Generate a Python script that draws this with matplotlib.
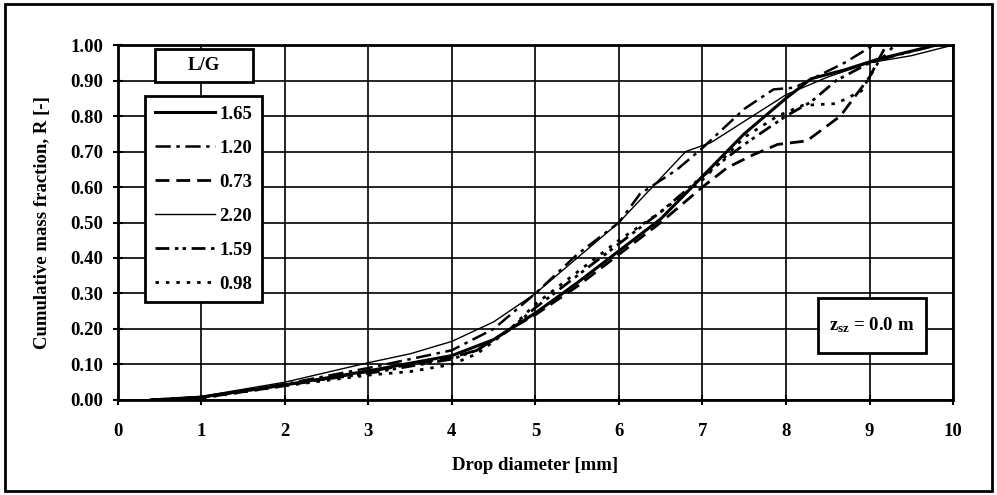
import matplotlib
matplotlib.use('Agg')
import matplotlib.pyplot as plt
from matplotlib.patches import Rectangle

plt.rcParams['font.family'] = ['Liberation Serif', 'DejaVu Serif']
plt.rcParams['font.weight'] = 'bold'
plt.rcParams['axes.labelweight'] = 'bold'
plt.rcParams['mathtext.default'] = 'regular'
plt.rcParams['lines.scale_dashes'] = False

# dados (diametro da gota [mm], fracao massica acumulada)
x_165 = [0.4, 1, 2, 3, 4, 4.5, 5, 5.5, 6, 6.5, 7, 7.5, 8, 8.3, 8.7, 9.1, 9.8]
y_165 = [0, 0.008, 0.042, 0.082, 0.125, 0.17, 0.245, 0.33, 0.42, 0.51, 0.63, 0.75, 0.85, 0.905, 0.93, 0.96, 1.0]

x_120 = [0.4, 1, 2, 3, 4, 4.5, 5, 5.5, 6, 6.25, 6.7, 7, 7.5, 7.85, 8.1, 8.7, 9.05]
y_120 = [0, 0.008, 0.045, 0.09, 0.14, 0.2, 0.3, 0.41, 0.5, 0.58, 0.65, 0.71, 0.82, 0.875, 0.88, 0.95, 1.0]

x_073 = [0.4, 1, 2, 3, 4, 4.3, 4.7, 5, 5.5, 6, 6.5, 7, 7.3, 7.6, 7.9, 8.25, 8.65, 9.0, 9.2]
y_073 = [0, 0.006, 0.04, 0.08, 0.12, 0.14, 0.2, 0.24, 0.32, 0.41, 0.5, 0.6, 0.655, 0.69, 0.72, 0.73, 0.8, 0.91, 1.0]

x_220 = [0.4, 1, 2, 3, 3.5, 4, 4.5, 5, 5.5, 5.75, 6, 6.4, 6.8, 7.1, 7.6, 8, 8.5, 9, 9.5, 10]
y_220 = [0, 0.01, 0.05, 0.105, 0.13, 0.165, 0.22, 0.3, 0.4, 0.45, 0.5, 0.6, 0.7, 0.725, 0.8, 0.86, 0.91, 0.95, 0.97, 1.0]

x_159 = [0.4, 1, 2, 3, 4, 4.3, 4.7, 5, 5.5, 6, 6.5, 7, 7.5, 8, 8.3, 8.6, 9, 9.3, 9.8]
y_159 = [0, 0.007, 0.043, 0.075, 0.115, 0.14, 0.2, 0.26, 0.35, 0.44, 0.53, 0.63, 0.72, 0.8, 0.84, 0.9, 0.95, 0.97, 1.0]

x_098 = [0.4, 1, 2, 3, 3.5, 4, 4.3, 4.7, 5, 5.5, 6, 6.5, 7, 7.5, 7.9, 8.2, 8.6, 8.9, 9.1, 9.3]
y_098 = [0, 0.005, 0.04, 0.07, 0.08, 0.1, 0.13, 0.2, 0.27, 0.36, 0.45, 0.53, 0.62, 0.74, 0.8, 0.83, 0.835, 0.87, 0.95, 1.0]

rotulos = ['1.65', '1.20', '0.73', '2.20', '1.59', '0.98']
series = [(x_165, y_165), (x_120, y_120), (x_073, y_073),
          (x_220, y_220), (x_159, y_159), (x_098, y_098)]
estilos = ['-', (0, (11, 4, 2.5, 4)), (0, (10, 5)), '-',
           (0, (10, 4, 2.5, 3, 2.5, 4)), (0, (2.5, 5))]
larguras = [2.2, 1.8, 2.0, 1.0, 2.0, 2.0]

fig = plt.figure(figsize=(9.97, 4.95), dpi=100)
ax = fig.add_axes([0.118, 0.192, 0.838, 0.717])

for (xs, ys), ls, lw, lab in zip(series, estilos, larguras, rotulos):
    ax.plot(xs, ys, color='black', linestyle=ls, linewidth=lw, label=lab, zorder=3)

ax.set_xlim(0, 10)
ax.set_ylim(0, 1)
ax.set_xticks(range(0, 11))
ax.set_yticks([i / 10 for i in range(11)])
ax.set_yticklabels(['%.2f' % (i / 10) for i in range(11)])
ax.grid(True, color='black', linewidth=1.2)
ax.set_axisbelow(True)
for s in ax.spines.values():
    s.set_linewidth(2)
ax.tick_params(direction='inout', length=7, width=1.5, labelsize=13.5)
ax.tick_params(axis='x', pad=13)
ax.tick_params(axis='y', pad=7)

ax.set_xlabel('Drop diameter [mm]', fontsize=13.5, labelpad=12)
ax.set_ylabel('Cumulative mass fraction, R [-]', fontsize=13.5, labelpad=14)

leg = ax.legend(loc='upper left', bbox_to_anchor=(0.033, 0.856), fontsize=13.5,
                handlelength=3.2, handletextpad=0.25, labelspacing=0.9,
                borderaxespad=0, borderpad=0.5, fancybox=False, framealpha=1,
                edgecolor='black')
leg.get_frame().set_linewidth(2)

# caixa do titulo da legenda
ax.add_patch(Rectangle((0.45, 0.895), 1.17, 0.095, facecolor='white',
                       edgecolor='black', linewidth=2, zorder=5))
ax.text(1.035, 0.9425, 'L/G', ha='center', va='center', fontsize=13.5, zorder=6)

# caixa da altura
ax.add_patch(Rectangle((8.38, 0.133), 1.29, 0.155, facecolor='white',
                       edgecolor='black', linewidth=2, zorder=5))
ax.text(9.025, 0.21, 'z$_{sz}$ = 0.0 m', ha='center', va='center', fontsize=13.5, zorder=6)

# moldura da figura
fig.patches.append(Rectangle((0.005, 0.008), 0.99, 0.984, transform=fig.transFigure,
                             fill=False, edgecolor='black', linewidth=2))

fig.savefig('out.png', dpi=100)
